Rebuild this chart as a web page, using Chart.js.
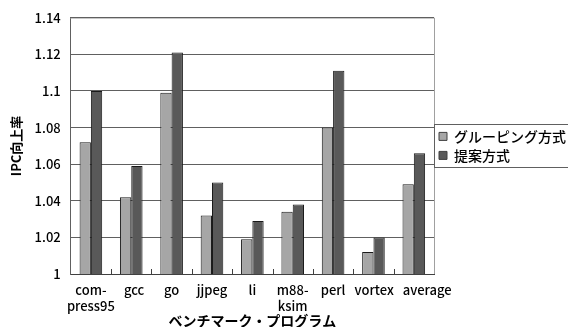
<!DOCTYPE html>
<html>
<head>
<meta charset="utf-8">
<script src="https://cdn.jsdelivr.net/npm/chart.js@4/dist/chart.umd.min.js"></script>
<style>
html,body{margin:0;padding:0;background:#fff;overflow:hidden;}
#wrap{width:568px;height:327px;position:relative;overflow:hidden;}
</style>
</head>
<body>
<div id="wrap"><canvas id="c" width="576" height="327"></canvas></div>
<script>
const categories = [["com-","press95"],"gcc","go","jjpeg","li",["m88-","ksim"],"perl","vortex","average"];
const groupingValues = [1.072,1.042,1.099,1.032,1.019,1.034,1.080,1.012,1.049];
const proposedValues = [1.100,1.059,1.121,1.050,1.029,1.038,1.111,1.020,1.066];
const yTicks = [1,1.02,1.04,1.06,1.08,1.1,1.12,1.14];
const seriesNames = ["グルーピング方式","提案方式"];

const FONT = '"Noto Sans CJK JP", "Liberation Sans", sans-serif';

// Shift overlapping x labels to the right (like the original spreadsheet did)
const labelDeoverlap = {
  id:'labelDeoverlap',
  afterLayout(chart){
    const xs = chart.scales.x;
    if (xs._deoverlapWrapped) return;
    const orig = xs.getLabelItems.bind(xs);
    xs.getLabelItems = function(area){
      const items = orig(area);
      const ctx = chart.ctx;
      let prevRight = -Infinity;
      const gap = 9;
      items.forEach(it=>{
        ctx.save();
        ctx.font = it.font.string;
        const lines = Array.isArray(it.label) ? it.label : [it.label];
        const w = Math.max(...lines.map(l=>ctx.measureText(l).width));
        ctx.restore();
        let cx = it.options.translation[0];
        if (cx - w/2 < prevRight + gap) {
          cx = prevRight + gap + w/2;
          it.options.translation[0] = cx;
        }
        prevRight = cx + w/2;
      });
      return items;
    };
    xs._deoverlapWrapped = true;
  }
};

const decor = {
  id:'decor',
  afterDraw(chart){
    const ctx = chart.ctx, a = chart.chartArea, xs = chart.scales.x;
    ctx.save();
    ctx.lineWidth = 1;
    ctx.strokeStyle = '#c8c8c8';
    ctx.beginPath(); ctx.moveTo(a.left, Math.round(a.top)+0.5); ctx.lineTo(a.right, Math.round(a.top)+0.5); ctx.stroke();
    ctx.strokeStyle = '#a0a0a0';
    ctx.beginPath(); ctx.moveTo(Math.round(a.right)+0.5, a.top); ctx.lineTo(Math.round(a.right)+0.5, a.bottom); ctx.stroke();
    ctx.strokeStyle = '#404040';
    for (let i = 1; i < categories.length; i++) {
      const x = Math.round((xs.getPixelForValue(i-1) + xs.getPixelForValue(i))/2) + 0.5;
      ctx.beginPath(); ctx.moveTo(x, a.bottom-5); ctx.lineTo(x, a.bottom); ctx.stroke();
    }
    const lg = chart.legend, hb = lg.legendHitBoxes;
    if (hb && hb.length) {
      const top = Math.min(...hb.map(h=>h.top)) - 5;
      const bot = Math.max(...hb.map(h=>h.top+h.height)) + 5;
      ctx.strokeStyle = '#606060';
      ctx.strokeRect(Math.round(lg.left)+0.5, Math.round(top)+0.5, 300, Math.round(bot-top));
    }
    ctx.restore();
  }
};

new Chart(document.getElementById('c'), {
  type:'bar',
  data:{
    labels: categories,
    datasets:[
      {label:seriesNames[0], data:groupingValues, backgroundColor:'#a6a6a6', borderColor:'#1a1a1a', borderWidth:1, barPercentage:1.0, categoryPercentage:0.56},
      {label:seriesNames[1], data:proposedValues, backgroundColor:'#595959', borderColor:'#1a1a1a', borderWidth:1, barPercentage:1.0, categoryPercentage:0.56}
    ]
  },
  options:{
    responsive:false,
    animation:false,
    layout:{padding:{top:5,right:0,left:8,bottom:0}},
    plugins:{
      legend:{
        position:'right',
        align:'center',
        fullSize:false,
        labels:{
          font:{family:FONT,size:14,weight:'500'},
          color:'#000',
          boxWidth:8, boxHeight:8,
          padding:5,
          generateLabels(chart){
            return chart.data.datasets.map((d,i)=>({text:d.label, fillStyle:d.backgroundColor, strokeStyle:'#404040', lineWidth:1, datasetIndex:i, fontColor:'#000'}));
          }
        }
      },
      tooltip:{enabled:false}
    },
    scales:{
      x:{
        grid:{display:false},
        border:{display:true,color:'#404040'},
        ticks:{font:{family:FONT,size:13,weight:'500',lineHeight:'16px'},color:'#000',maxRotation:0,autoSkip:false,padding:0},
        title:{display:true,text:'ベンチマーク・プログラム',font:{family:FONT,size:14,weight:'bold',lineHeight:'13px'},color:'#000',padding:{top:0,bottom:0}}
      },
      y:{
        min:1,max:1.14,
        afterBuildTicks(s){ s.ticks = yTicks.map(v=>({value:v})); },
        grid:{color:'#606060',drawTicks:false},
        border:{display:true,color:'#606060'},
        ticks:{font:{family:FONT,size:13,weight:'500'},color:'#000',padding:10,callback:v=>String(+v.toFixed(2))},
        title:{display:true,text:'IPC向上率',font:{family:FONT,size:13,weight:'bold'},color:'#000',padding:{top:0,bottom:1}}
      }
    }
  },
  plugins:[labelDeoverlap, decor]
});
</script>
</body>
</html>
